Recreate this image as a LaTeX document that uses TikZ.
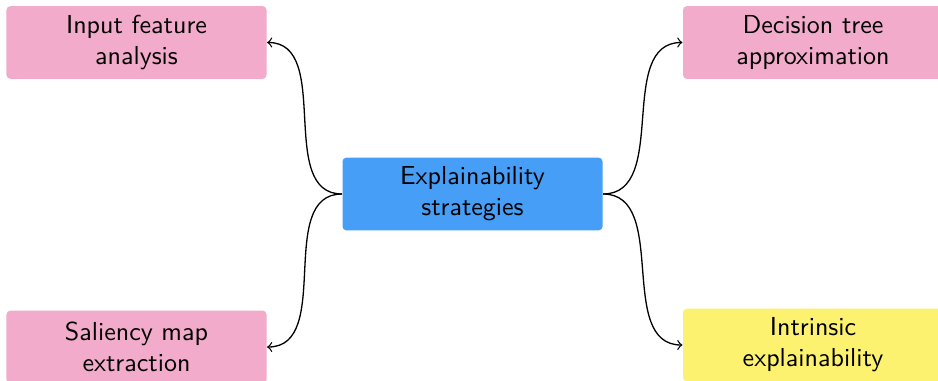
\documentclass[tikz,border=0pt]{standalone}
\usepackage{xcolor}
\definecolor{boxpink}{HTML}{F3ABCB}
\definecolor{boxblue}{HTML}{469EF6}
\definecolor{boxyellow}{HTML}{FDF26F}
\begin{document}
\begin{tikzpicture}[x=0.3846pt,y=-0.3846pt,
  idea/.style={rounded corners=1.5pt, minimum width=100pt, minimum height=28pt,
    align=center, font=\sffamily, inner sep=2pt},
  link/.style={->, line width=0.5pt}]
\useasboundingbox (0,0) rectangle (938,380);
\node[idea, fill=boxblue] (c) at (472.5,194) {Explainability\\strategies};
\node[idea, fill=boxpink] (tl) at (136.5,42.5) {Input feature\\analysis};
\node[idea, fill=boxpink] (tr) at (813,42.5) {Decision tree\\approximation};
\node[idea, fill=boxpink] (bl) at (136.5,347) {Saliency map\\extraction};
\node[idea, fill=boxyellow] (br) at (813,345) {Intrinsic\\explainability};
\draw[link] (c.west) to[out=180,in=0] (tl.east);
\draw[link] (c.west) to[out=180,in=0] (bl.east);
\draw[link] (c.east) to[out=0,in=180] (tr.west);
\draw[link] (c.east) to[out=0,in=180] (br.west);
\end{tikzpicture}
\end{document}
